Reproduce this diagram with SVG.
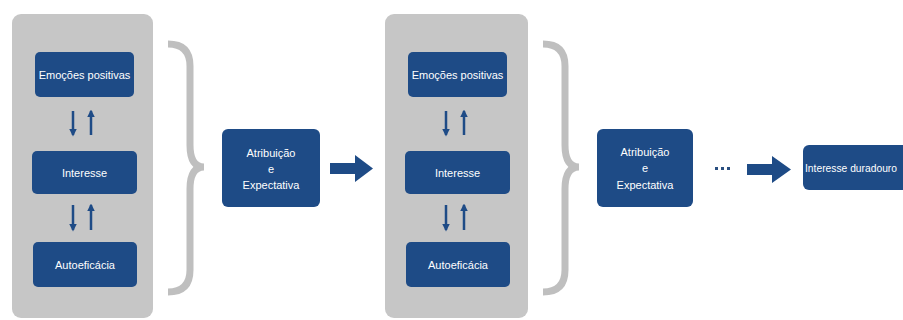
<svg xmlns="http://www.w3.org/2000/svg" width="903" height="320" viewBox="0 0 903 320">
  <defs>
    <style>
      .panel { fill: #c6c6c6; }
      .box { fill: #1e4b86; }
      .lbl { fill: #ffffff; font-family: "Liberation Sans", Arial, sans-serif; font-size: 11px; text-anchor: middle; }
      .brace { fill: none; stroke: #bfbfbf; stroke-width: 7; stroke-linecap: butt; }
      .thin { stroke: #1e4b86; stroke-width: 2.5; marker-end: url(#head); }
      .big { fill: #1e4b86; }
      .dots { fill: #2a4f80; }
    </style>
    <marker id="head" viewBox="0 0 10 10" refX="8" refY="5" markerWidth="3" markerHeight="3" orient="auto">
      <path d="M0,0 L10,5 L0,10 z" fill="#1e4b86"/>
    </marker>
    <path id="brace" class="brace" d="M168,44 Q190,44 190,66 L190,145 Q190,167 204,167 Q190,167 190,189 L190,270 Q190,292 168,292"/>
  </defs>
  <rect width="903" height="320" fill="#ffffff"/>

  <!-- first cycle -->
  <g id="cycle1">
    <rect class="panel" x="12" y="14" width="141" height="304" rx="9"/>
    <g id="emocoes1">
      <rect class="box" x="35" y="52" width="99" height="45" rx="5"/>
      <text class="lbl" x="84.5" y="78.5">Emoções positivas</text>
    </g>
    <g id="interesse1">
      <rect class="box" x="32" y="151" width="105" height="43" rx="5"/>
      <text class="lbl" x="84.5" y="176.5">Interesse</text>
    </g>
    <g id="autoeficacia1">
      <rect class="box" x="33" y="242" width="104" height="45" rx="5"/>
      <text class="lbl" x="85" y="268.5">Autoeficácia</text>
    </g>
  </g>

  <g id="atribuicao1">
    <rect class="box" x="222" y="129" width="98" height="78" rx="6"/>
    <text class="lbl" x="271" y="157">Atribuição</text>
    <text class="lbl" x="271" y="173">e</text>
    <text class="lbl" x="271" y="189">Expectativa</text>
  </g>

  <!-- second cycle -->
  <g id="cycle2">
    <rect class="panel" x="385" y="14" width="143" height="304" rx="9"/>
    <g id="emocoes2">
      <rect class="box" x="408" y="52" width="99" height="45" rx="5"/>
      <text class="lbl" x="457.5" y="78.5">Emoções positivas</text>
    </g>
    <g id="interesse2">
      <rect class="box" x="405" y="151" width="105" height="43" rx="5"/>
      <text class="lbl" x="457.5" y="176.5">Interesse</text>
    </g>
    <g id="autoeficacia2">
      <rect class="box" x="406" y="242" width="104" height="45" rx="5"/>
      <text class="lbl" x="458" y="268.5">Autoeficácia</text>
    </g>
  </g>

  <g id="atribuicao2">
    <rect class="box" x="597" y="129" width="96" height="78" rx="6"/>
    <text class="lbl" x="645" y="156">Atribuição</text>
    <text class="lbl" x="645" y="172">e</text>
    <text class="lbl" x="645" y="189">Expectativa</text>
  </g>

  <g id="duradouro">
    <rect class="box" x="803" y="145" width="110" height="45" rx="6"/>
    <text class="lbl" x="805" y="171.5" style="text-anchor:start" textLength="92" lengthAdjust="spacingAndGlyphs">Interesse duradouro</text>
  </g>

  <!-- connectors -->
  <g id="connectors">
    <line class="thin" x1="73" y1="111" x2="73" y2="135"/>
    <line class="thin" x1="91" y1="135" x2="91" y2="111"/>
    <line class="thin" x1="73" y1="205" x2="73" y2="230"/>
    <line class="thin" x1="91" y1="230" x2="91" y2="205"/>

    <line class="thin" x1="446" y1="111" x2="446" y2="135"/>
    <line class="thin" x1="464" y1="135" x2="464" y2="111"/>
    <line class="thin" x1="446" y1="205" x2="446" y2="230"/>
    <line class="thin" x1="464" y1="230" x2="464" y2="205"/>

    <use href="#brace"/>
    <use href="#brace" transform="translate(375,0)"/>

    <path class="big" d="M330,163 L355,163 L355,155 L373,168.5 L355,182 L355,174 L330,174 z"/>
    <path class="big" d="M747,164 L772,164 L772,156 L791,169.5 L772,183 L772,175 L747,175 z"/>

    <g class="dots">
      <rect x="715" y="167" width="3" height="3"/>
      <rect x="721" y="167" width="3" height="3"/>
      <rect x="727" y="167" width="3" height="3"/>
    </g>
  </g>
</svg>
